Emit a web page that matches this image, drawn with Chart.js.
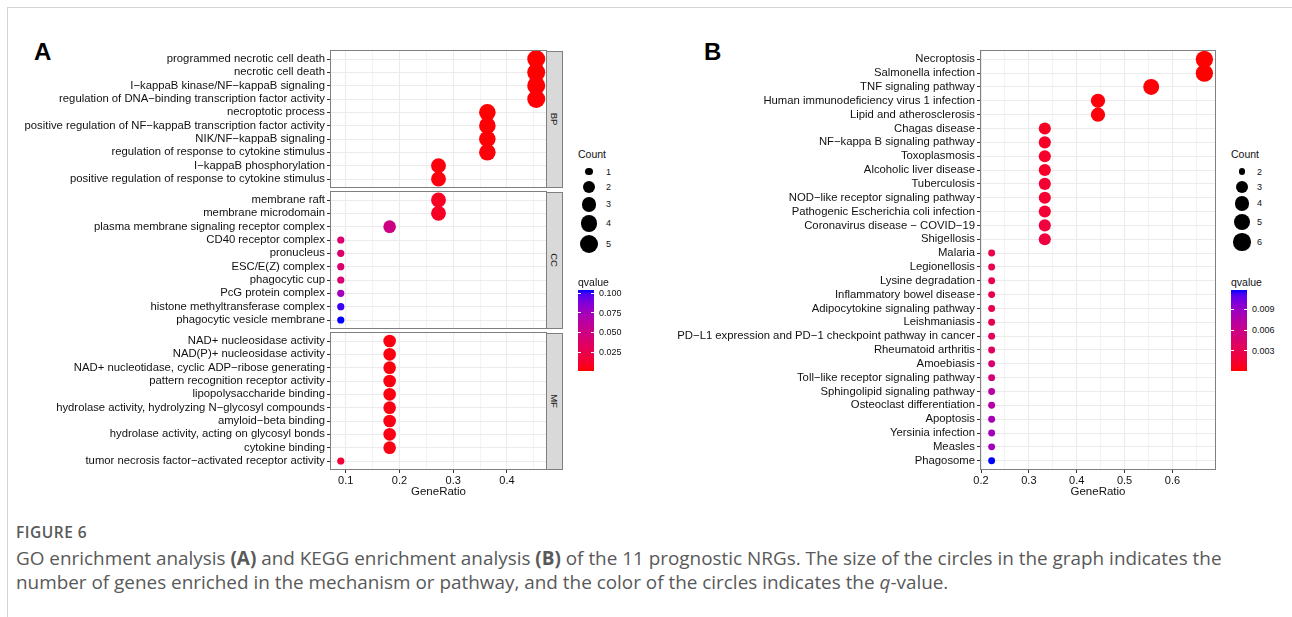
<!DOCTYPE html>
<html><head><meta charset="utf-8">
<script src="https://cdn.jsdelivr.net/npm/chart.js@4.4.1/dist/chart.umd.min.js"></script>
<style>
html,body{margin:0;padding:0;background:#fff;}
body{width:1292px;height:617px;overflow:hidden;position:relative;font-family:'Liberation Sans',Arial,sans-serif;}
#frame{position:absolute;left:7px;top:7px;width:1290px;height:640px;border:1px solid #d3d3d3;box-sizing:border-box;}
canvas{position:absolute;}
.strip{position:absolute;background:#d9d9d9;border:1px solid #7f7f7f;box-sizing:border-box;}
.strip span{position:absolute;left:50%;top:50%;transform:translate(-50%,-50%) rotate(90deg);font-size:9.5px;color:#1a1a1a;white-space:nowrap;}
.lab{position:absolute;white-space:nowrap;color:#111;}
.panelTag{position:absolute;font-weight:bold;font-size:24px;color:#000;line-height:1;}
.dot{position:absolute;background:#000;border-radius:50%;}
.cbar{position:absolute;}
.ctick{position:absolute;height:1px;background:#fff;}
#caption{position:absolute;left:16px;top:519px;font-family:'Open Sans','Noto Sans',sans-serif;color:#595959;}
#caption .fig{font-size:15.5px;font-weight:600;letter-spacing:0.5px;line-height:26px;}
#caption .txt{font-size:18.9px;line-height:24px;white-space:nowrap;margin-top:1px;}
</style></head>
<body>
<div id="frame"></div>
<div class="panelTag" style="left:34px;top:40px;">A</div>
<div class="panelTag" style="left:704px;top:40px;">B</div>
<div id="caption">
<div class="fig">FIGURE 6</div>
<div class="txt">GO enrichment analysis <b>(A)</b> and KEGG enrichment analysis <b>(B)</b> of the 11 prognostic NRGs. The size of the circles in the graph indicates the<br>number of genes enriched in the mechanism or pathway, and the color of the circles indicates the <i>q</i>-value.</div>
</div>
<script>
// ---------------- DATA ----------------
const goBPTerms = ["programmed necrotic cell death","necrotic cell death","I\u2212kappaB kinase/NF\u2212kappaB signaling","regulation of DNA\u2212binding transcription factor activity","necroptotic process","positive regulation of NF\u2212kappaB transcription factor activity","NIK/NF\u2212kappaB signaling","regulation of response to cytokine stimulus","I\u2212kappaB phosphorylation","positive regulation of response to cytokine stimulus"];
const goBPRatio = [0.4545,0.4545,0.4545,0.4545,0.3636,0.3636,0.3636,0.3636,0.2727,0.2727];
const goBPCount = [5,5,5,5,4,4,4,4,3,3];
const goBPQ = [0.0008,0.0008,0.0011,0.0016,0.0013,0.0018,0.0018,0.0022,0.0030,0.0035];

const goCCTerms = ["membrane raft","membrane microdomain","plasma membrane signaling receptor complex","CD40 receptor complex","pronucleus","ESC/E(Z) complex","phagocytic cup","PcG protein complex","histone methyltransferase complex","phagocytic vesicle membrane"];
const goCCRatio = [0.2727,0.2727,0.1818,0.0909,0.0909,0.0909,0.0909,0.0909,0.0909,0.0909];
const goCCCount = [3,3,2,1,1,1,1,1,1,1];
const goCCQ = [0.0090,0.0095,0.0500,0.0390,0.0395,0.0400,0.0410,0.0750,0.1010,0.1043];

const goMFTerms = ["NAD+ nucleosidase activity","NAD(P)+ nucleosidase activity","NAD+ nucleotidase, cyclic ADP\u2212ribose generating","pattern recognition receptor activity","lipopolysaccharide binding","hydrolase activity, hydrolyzing N\u2212glycosyl compounds","amyloid\u2212beta binding","hydrolase activity, acting on glycosyl bonds","cytokine binding","tumor necrosis factor\u2212activated receptor activity"];
const goMFRatio = [0.1818,0.1818,0.1818,0.1818,0.1818,0.1818,0.1818,0.1818,0.1818,0.0909];
const goMFCount = [2,2,2,2,2,2,2,2,2,1];
const goMFQ = [0.0035,0.0035,0.0035,0.0040,0.0040,0.0042,0.0042,0.0045,0.0045,0.0160];

const keggTerms = ["Necroptosis","Salmonella infection","TNF signaling pathway","Human immunodeficiency virus 1 infection","Lipid and atherosclerosis","Chagas disease","NF\u2212kappa B signaling pathway","Toxoplasmosis","Alcoholic liver disease","Tuberculosis","NOD\u2212like receptor signaling pathway","Pathogenic Escherichia coli infection","Coronavirus disease \u2212 COVID\u221219","Shigellosis","Malaria","Legionellosis","Lysine degradation","Inflammatory bowel disease","Adipocytokine signaling pathway","Leishmaniasis","PD\u2212L1 expression and PD\u22121 checkpoint pathway in cancer","Rheumatoid arthritis","Amoebiasis","Toll\u2212like receptor signaling pathway","Sphingolipid signaling pathway","Osteoclast differentiation","Apoptosis","Yersinia infection","Measles","Phagosome"];
const keggRatio = [0.6667,0.6667,0.5556,0.4444,0.4444,0.3333,0.3333,0.3333,0.3333,0.3333,0.3333,0.3333,0.3333,0.3333,0.2222,0.2222,0.2222,0.2222,0.2222,0.2222,0.2222,0.2222,0.2222,0.2222,0.2222,0.2222,0.2222,0.2222,0.2222,0.2222];
const keggCount = [6,6,5,4,4,3,3,3,3,3,3,3,3,3,2,2,2,2,2,2,2,2,2,2,2,2,2,2,2,2];
const keggQ = [0.0001,0.0001,0.0002,0.0003,0.0003,0.0010,0.0012,0.0013,0.0013,0.0016,0.0016,0.0017,0.0021,0.0022,0.0027,0.0028,0.0028,0.0029,0.0029,0.0030,0.0036,0.0038,0.0048,0.0050,0.0071,0.0074,0.0083,0.0084,0.0085,0.0118];

const goXMajor = [0.1,0.2,0.3,0.4];
const goXMajorLabels = ["0.1","0.2","0.3","0.4"];
const goXMinor = [0.15,0.25,0.35,0.45];
const keggXMajor = [0.2,0.3,0.4,0.5,0.6];
const keggXMajorLabels = ["0.2","0.3","0.4","0.5","0.6"];
const keggXMinor = [0.25,0.35,0.45,0.55,0.65];

const goCountBreaks = [1,2,3,4,5];
const keggCountBreaks = [2,3,4,5,6];
const goQBreaks = [0.025,0.05,0.075,0.1];
const goQLabels = ["0.025","0.050","0.075","0.100"];
const keggQBreaks = [0.003,0.006,0.009];
const keggQLabels = ["0.003","0.006","0.009"];

const facetNames = ["BP","CC","MF"];
const xTitle = "GeneRatio";
const legendSizeTitle = "Count";
const legendColorTitle = "qvalue";

// ---------------- HELPERS ----------------
const FONT = "'Liberation Sans', Arial, sans-serif";
const LAB_LOW = [53.2408, 80.0925, 67.2032];   // red
const LAB_HIGH = [32.2970, 79.1875, -107.8602]; // blue
function labToHex(L,a,b){
  let y=(L+16)/116, x=a/500+y, z=y-b/200;
  const f=t=>{const t3=t*t*t;return t3>0.008856?t3:(t-16/116)/7.787;};
  const X=0.95047*f(x), Y=1.0*f(y), Z=1.08883*f(z);
  let r=3.2406*X-1.5372*Y-0.4986*Z, g=-0.9689*X+1.8758*Y+0.0415*Z, bb=0.0557*X-0.2040*Y+1.0570*Z;
  const gm=c=>{c=Math.max(0,Math.min(1,c));return c>0.0031308?1.055*Math.pow(c,1/2.4)-0.055:12.92*c;};
  const h=c=>Math.round(gm(c)*255).toString(16).padStart(2,'0');
  return '#'+h(r)+h(g)+h(bb);
}
function colorAt(t){t=Math.max(0,Math.min(1,t));return labToHex(LAB_LOW[0]+(LAB_HIGH[0]-LAB_LOW[0])*t,LAB_LOW[1]+(LAB_HIGH[1]-LAB_LOW[1])*t,LAB_LOW[2]+(LAB_HIGH[2]-LAB_LOW[2])*t);}
function makeColor(qmin,qmax){return q=>colorAt((q-qmin)/(qmax-qmin));}
function makeRadius(cmin,cmax,k){return c=>k*((3+5*Math.sqrt((c-cmin)/(cmax-cmin)))*2.845+0.945)/2;}
function expandRange(vals){const mn=Math.min(...vals),mx=Math.max(...vals),s=mx-mn;return [mn-0.05*s,mx+0.05*s];}

const framePlugin = {
  id:'frameP',
  afterDatasetsDraw(chart,args,o){
    const {ctx,chartArea:ca}=chart;
    ctx.save();
    ctx.strokeStyle='#7f7f7f';ctx.lineWidth=1;
    ctx.strokeRect(Math.round(ca.left)-0.5,Math.round(ca.top)-0.5,Math.round(ca.right-ca.left)+1,Math.round(ca.bottom-ca.top)+1);
    if(o && o.title){
      ctx.fillStyle='#111';ctx.font='11.5px '+FONT;ctx.textAlign='center';ctx.textBaseline='middle';
      ctx.fillText(o.title,(ca.left+ca.right)/2,ca.bottom+o.titleOffset);
    }
    ctx.restore();
  }
};

function panel(o){
  const cv=document.createElement('canvas');
  cv.width=o.W;cv.height=o.H;cv.style.left=o.L+'px';cv.style.top=o.T+'px';
  document.body.appendChild(cv);
  const isMajor=v=>o.majors.some(m=>Math.abs(m-v)<1e-9);
  const allX=[...o.majors,...o.minors].sort((a,b)=>a-b);
  new Chart(cv,{
    type:'scatter',
    data:{datasets:[{
      data:o.labels.map((l,i)=>({x:o.ratio[i],y:i})),
      pointRadius:o.count.map(o.radius),
      pointHoverRadius:o.count.map(o.radius),
      backgroundColor:o.q.map(o.color),
      borderWidth:0,
      clip:false
    }]},
    options:{
      responsive:false,animation:false,devicePixelRatio:1,events:[],
      layout:{autoPadding:false,padding:{top:o.pt,right:o.pr,left:0,bottom:o.pb}},
      plugins:{legend:{display:false},tooltip:{enabled:false},frameP:{title:o.title,titleOffset:23}},
      scales:{
        x:{type:'linear',min:o.xr[0],max:o.xr[1],bounds:'data',
          afterBuildTicks:s=>{s.ticks=allX.map(v=>({value:v}));},
          afterFit:s=>{s.height=o.xh;s.paddingLeft=0;s.paddingRight=0;},
          grid:{color:c=>isMajor(c.tick.value)?'#EBEBEB':'#F4F4F4',lineWidth:1,drawTicks:o.showX,tickLength:4,
                tickColor:c=>isMajor(c.tick.value)?'#333':'rgba(0,0,0,0)'},
          border:{display:false},
          ticks:{display:o.showX,autoSkip:false,maxRotation:0,minRotation:0,padding:1,color:'#111',font:{family:FONT,size:11},
                 callback:v=>{const i=o.majors.findIndex(m=>Math.abs(m-v)<1e-9);return i>=0?o.majorLabels[i]:'';}}
        },
        y:{type:'linear',reverse:true,min:-0.6,max:o.labels.length-0.4,bounds:'data',
          afterBuildTicks:s=>{s.ticks=o.labels.map((l,i)=>({value:i}));},
          afterFit:s=>{s.width=o.yw;s.paddingTop=0;s.paddingBottom=0;},
          grid:{color:'#EBEBEB',lineWidth:1,tickLength:4,tickColor:'#333'},
          border:{display:false},
          ticks:{autoSkip:false,padding:2,color:'#111',font:{family:FONT,size:11.3},callback:v=>o.labels[Math.round(v)]}
        }
      }
    },
    plugins:[framePlugin]
  });
}

function sizeLegend(x,titleY,breaks,radius,labelX){
  const t=document.createElement('div');t.className='lab';t.style.cssText=`left:${x.title}px;top:${titleY}px;font-size:10.5px;transform:translateY(-50%);`;t.textContent=legendSizeTitle;document.body.appendChild(t);
  let cy=171.7, prevH=null;
  breaks.forEach((b,i)=>{
    const r=radius(b), h=Math.max(2*r+3.5,14.5);
    if(prevH!==null) cy+= (prevH+h)/2;
    prevH=h;
    const d=document.createElement('div');d.className='dot';
    d.style.cssText=`left:${x.dot-r}px;top:${cy-r}px;width:${2*r}px;height:${2*r}px;`;document.body.appendChild(d);
    const l=document.createElement('div');l.className='lab';l.style.cssText=`left:${labelX}px;top:${cy}px;font-size:9px;transform:translateY(-50%);`;l.textContent=String(b);document.body.appendChild(l);
  });
}
function colorLegend(x,qmin,qmax,breaks,labels,color){
  const top=290,bot=371,w=16,hgt=bot-top;
  const t=document.createElement('div');t.className='lab';t.style.cssText=`left:${x}px;top:281.5px;font-size:10.5px;transform:translateY(-50%);`;t.textContent=legendColorTitle;document.body.appendChild(t);
  const stops=[];for(let i=0;i<=20;i++){stops.push(colorAt(i/20)+' '+(i*5)+'%');}
  const bar=document.createElement('div');bar.className='cbar';
  bar.style.cssText=`left:${x}px;top:${top}px;width:${w}px;height:${hgt}px;background:linear-gradient(to top,${stops.join(',')});`;
  document.body.appendChild(bar);
  breaks.forEach((b,i)=>{
    const y=bot-(b-qmin)/(qmax-qmin)*hgt;
    [0,w-3].forEach(dx=>{const tk=document.createElement('div');tk.className='ctick';tk.style.cssText=`left:${x+dx}px;top:${y-0.5}px;width:3px;`;document.body.appendChild(tk);});
    const l=document.createElement('div');l.className='lab';l.style.cssText=`left:${x+w+5}px;top:${y}px;font-size:9px;transform:translateY(-50%);`;l.textContent=labels[i];document.body.appendChild(l);
  });
}
function strip(left,top,h,text){
  const s=document.createElement('div');s.className='strip';s.style.cssText=`left:${left}px;top:${top}px;width:17px;height:${h}px;`;
  const sp=document.createElement('span');sp.textContent=text;s.appendChild(sp);document.body.appendChild(s);
}

// ---------------- PANEL A (GO) ----------------
const goAllRatio=[...goBPRatio,...goCCRatio,...goMFRatio];
const goAllQ=[...goBPQ,...goCCQ,...goMFQ];
const goAllCount=[...goBPCount,...goCCCount,...goMFCount];
const goXR=expandRange(goAllRatio);
const goQmin=Math.min(...goAllQ),goQmax=Math.max(...goAllQ);
const goColor=makeColor(goQmin,goQmax);
const goRadius=makeRadius(Math.min(...goAllCount),Math.max(...goAllCount),0.76);
const A_LEFT=331,A_RIGHT=546,A_TOPS=[51,192,333],A_H=136;
const goSets=[[goBPTerms,goBPRatio,goBPCount,goBPQ],[goCCTerms,goCCRatio,goCCCount,goCCQ],[goMFTerms,goMFRatio,goMFCount,goMFQ]];
goSets.forEach((s,k)=>{
  const last=k===2;
  panel({L:0,T:A_TOPS[k]-2,W:A_RIGHT+2,H:2+A_H+(last?40:2),pt:2,pr:2,pb:last?0:2,yw:A_LEFT,xh:last?40:0,showX:last,
    labels:s[0],ratio:s[1],count:s[2],q:s[3],xr:goXR,majors:goXMajor,minors:goXMinor,majorLabels:goXMajorLabels,
    color:goColor,radius:goRadius,title:last?xTitle:null});
  strip(A_RIGHT-0.5,A_TOPS[k]-0.5,A_H+1,facetNames[k]);
});
sizeLegend({title:578,dot:589},154,goCountBreaks,goRadius,606);
colorLegend(578,goQmin,goQmax,goQBreaks,goQLabels,goColor);

// ---------------- PANEL B (KEGG) ----------------
const kXR=expandRange(keggRatio);
const kQmin=Math.min(...keggQ),kQmax=Math.max(...keggQ);
const kColor=makeColor(kQmin,kQmax);
const kRadius=makeRadius(Math.min(...keggCount),Math.max(...keggCount),0.73);
const B_L=600,B_LEFT=981,B_RIGHT=1215,B_TOP=51,B_H=418;
panel({L:B_L,T:B_TOP-2,W:B_RIGHT-B_L+2,H:2+B_H+40,pt:2,pr:2,pb:0,yw:B_LEFT-B_L,xh:40,showX:true,
  labels:keggTerms,ratio:keggRatio,count:keggCount,q:keggQ,xr:kXR,majors:keggXMajor,minors:keggXMinor,majorLabels:keggXMajorLabels,
  color:kColor,radius:kRadius,title:xTitle});
sizeLegend({title:1231,dot:1242},154,keggCountBreaks,kRadius,1257);
colorLegend(1231,kQmin,kQmax,keggQBreaks,keggQLabels,kColor);
</script>
</body></html>
